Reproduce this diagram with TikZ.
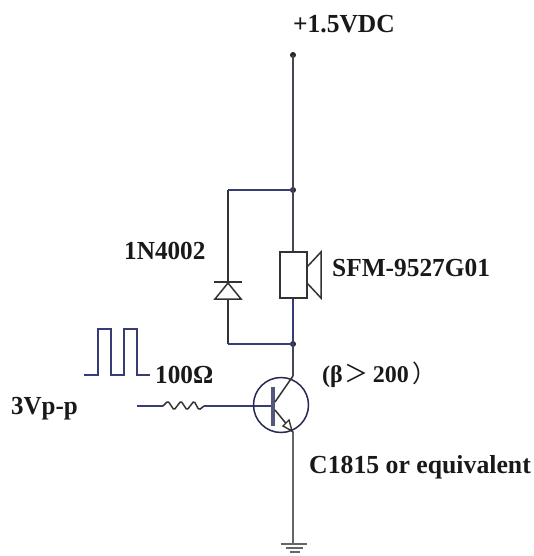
\documentclass[tikz,border=0pt]{standalone}
\usepackage{fontspec}
\setmainfont{Liberation Serif}
\newfontfamily\cjkf{Noto Sans CJK SC}
\usetikzlibrary{arrows.meta}
\definecolor{wire}{RGB}{70,70,85}
\definecolor{bluewire}{RGB}{55,60,120}
\tikzset{
  x=1pt,y=-1pt,
  wireline/.style={draw=wire,line width=1.5pt,line join=miter},
  bluel/.style={draw=bluewire,line width=1.7pt},
  darkl/.style={draw=black!80,line width=1.7pt},
  lab/.style={inner sep=0pt,anchor=base west,font=\fontsize{26}{26}\selectfont\bfseries,text=black!90},
  dotj/.style={circle,fill=black!85,inner sep=0pt,minimum size=6pt}
}
\begin{document}
\begin{tikzpicture}
\useasboundingbox (0,0) rectangle (534,556);
\fill[white] (0,0) rectangle (534,556);
% labels
\node[lab] (vdc) at (293,33) {\scalebox{.98}[1]{+1.5VDC}};
\node[lab] (dlab) at (124,259) {\scalebox{.97}[1]{1N4002}};
\node[lab] (spk) at (332,276) {\scalebox{.975}[1]{SFM-9527G01}};
\node[lab] (rlab) at (155,383) {\scalebox{.97}[1]{100Ω}};
\node[lab,font=\fontsize{24}{24}\selectfont\bfseries] (beta) at (322,382) {(β\hspace{2pt}{\cjkf\mdseries ＞}\hspace{4pt}200{\cjkf\mdseries\hspace{4pt}）}};
\node[lab] (vpp) at (11,414) {\scalebox{.96}[1]{3Vp-p}};
\node[lab] (cname) at (309,473) {\scalebox{.99}[1]{C1815 or equivalent}};
% junctions
\node[dotj] (top) at (293,55) {};
\node[dotj] (j1) at (293,190) {};
\node[dotj] (j2) at (293,344) {};
\coordinate (spkT) at (293,252);
\coordinate (spkB) at (293,298);
\coordinate (lt) at (228,190);
\coordinate (lb) at (228,344);
\coordinate (dT) at (228,283);
\coordinate (dB) at (228,299);
\coordinate (col) at (293,376);
\coordinate (em) at (293,432);
\coordinate (gnd) at (293,544);
\coordinate (in) at (137,406);
\coordinate (ra) at (163,406);
\coordinate (rb) at (204,406);
\coordinate (base) at (273,406);
% wires
\draw[wireline] (top.center) -- (j1.center) -- (spkT);
\draw[bluel] (j1.center) -- (lt);
\draw[darkl] (lt) -- (dT);
\draw[darkl] (dB) -- (lb);
\draw[bluel] (lb) -- (j2.center);
\draw[bluel] (spkB) -- (j2.center);
\draw[wireline] (j2.center) -- (col);
\draw[wireline,draw=black!60,line width=2pt] (em) -- (gnd);
% speaker
\draw[darkl,line width=1.5pt] (280,252) rectangle (307,298);
\draw[darkl,line width=1.5pt] (307,267) -- (321,252) -- (321,298) -- (307,283);
% diode
\draw[darkl,line width=1.6pt,line join=miter] (214,282) -- (242,282);
\draw[darkl,line width=1.5pt,line join=miter] (dT) -- (241,299) -- (215,299) -- cycle;
% ground
\draw[wireline,draw=black!60,line width=1.5pt] (281,544) -- (307,544);
\draw[wireline,draw=black!60,line width=1.5pt] (286,548) -- (303,548);
\draw[wireline,draw=black!60,line width=1.5pt] (290,552) -- (300,552);
% pulse
\draw[bluel,line width=1.5pt] (84,375) -- (98,375) -- (98,329) -- (111,329) -- (111,375) -- (124,375) -- (124,329) -- (137,329) -- (137,375) -- (150,375);
% resistor and base
\draw[bluel,line width=2.2pt] (in) -- (ra);
\draw[darkl,line width=1.5pt,rounded corners=1.5pt] (ra) -- (168,401) -- (174,410) -- (181,401) -- (187,410) -- (194,401) -- (199,410) -- (rb);
\draw[bluel,line width=2.2pt] (rb) -- (base);
% transistor
\draw[bluewire!70!black,line width=1.5pt] (281,405) circle[radius=27.5];
\draw[draw=bluewire!60!gray,line width=3.5pt] (273,387) -- (273,426);
\draw[darkl,line width=1.5pt] (275,402) -- (col);
\draw[darkl,line width=1.5pt] (275,410) -- (em);
\draw[darkl,line width=1.4pt,fill=white] (292,431) -- (283,426) -- (289,420) -- cycle;
\end{tikzpicture}
\end{document}
